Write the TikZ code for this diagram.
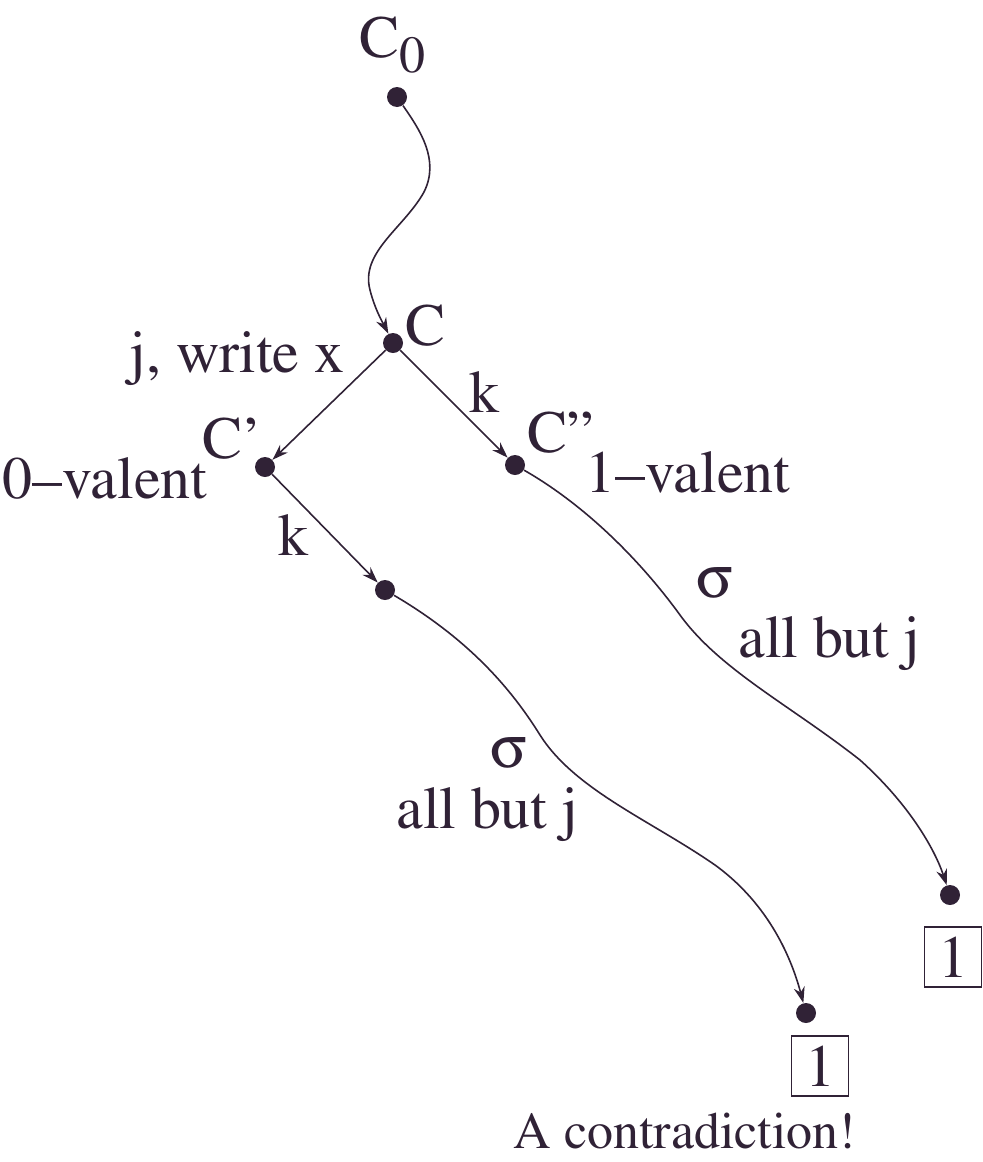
\documentclass[tikz,border=0pt]{standalone}
\usepackage[T1]{fontenc}
\usepackage{mathptmx}
\usepackage[Symbol]{upgreek}
\usepackage{xcolor}
\usetikzlibrary{arrows.meta,positioning}
\definecolor{ink}{RGB}{48,34,54}

\begin{document}
\begin{tikzpicture}[x=0.5pt,y=-0.5pt,>={Stealth[length=8pt,width=5.5pt]},
  dot/.style={circle,fill=ink,inner sep=0pt,minimum size=10pt},
  lbl/.style={text=ink,inner sep=0pt,font=\fontsize{30}{34}\selectfont},
  valbox/.style={draw=ink,line width=0.7pt,minimum width=28.5pt,minimum height=30pt,inner sep=0pt},
  run/.style={draw=ink,line width=0.8pt}]
\useasboundingbox (0,0) rectangle (983,1162);
% configurations
\node[dot] (c0) at (397,97) {};
\node[dot] (c) at (393,343) {};
\node[dot] (c1) at (265,467) {};
\node[dot] (c2) at (515,465) {};
\node[dot] (c1k) at (385,590) {};
\node[dot] (end1) at (806,1013) {};
\node[dot] (end2) at (950,895) {};
% labels
\node[lbl] (lc0) at (393,45) {C\textsubscript{\fontsize{26}{26}\selectfont 0}};
\node[lbl,anchor=west] (lc) at (405,325) {C};
\node[lbl,anchor=base east] (lwr) at (345,372) {j, write x};
\node[lbl] (lc1) at (232,438) {C'};
\node[lbl,anchor=base west] (l0v) at (2,498) {0--valent};
\node[lbl,anchor=west] (lc2) at (527,432) {C''};
\node[lbl,anchor=base west] (l1v) at (585,492) {1--valent};
\node[lbl,anchor=base] (lk1) at (484,412) {k};
\node[lbl,anchor=base] (lk2) at (293,555) {k};
\node[lbl] (ls1) at (715,583) {$\upsigma$};
\node[lbl,anchor=base west] (lab1) at (738,657) {all but j};
\node[lbl] (ls2) at (509,753) {$\upsigma$};
\node[lbl,anchor=base west] (lab2) at (396,828) {all but j};
\node[lbl,valbox] (v1) at (820,1066) {1};
\node[lbl,valbox] (v2) at (953,957) {1};
\node[lbl,anchor=base,font=\fontsize{26}{30}\selectfont] (lcon) at (685,1148) {A contradiction!};
% steps
\draw[run,->] (c0) .. controls (420,130) and (440,160) .. (424,192)
  .. controls (404,228) and (360,252) .. (370,290)
  .. controls (375,310) and (384,325) .. (c);
\draw[run,->] (c) -- (c1);
\draw[run,->] (c) -- (c2);
\draw[run,->] (c1) -- (c1k);
\draw[run,->] (c1k) .. controls (470,640) and (512,690) .. (540,735)
  .. controls (575,790) and (650,820) .. (715,865)
  .. controls (770,905) and (792,960) .. (end1);
\draw[run,->] (c2) .. controls (585,505) and (640,560) .. (680,615)
  .. controls (720,670) and (790,705) .. (860,760)
  .. controls (910,805) and (935,850) .. (end2);
\end{tikzpicture}
\end{document}
